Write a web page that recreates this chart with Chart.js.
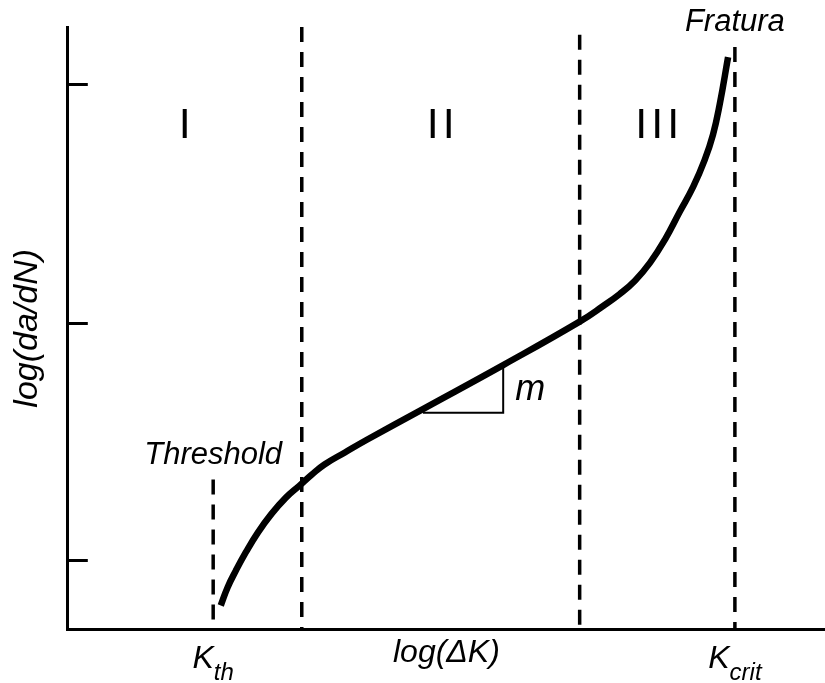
<!DOCTYPE html>
<html>
<head>
<meta charset="utf-8">
<script src="https://cdn.jsdelivr.net/npm/chart.js@4.4.0/dist/chart.umd.min.js"></script>
<style>
  html, body { margin: 0; padding: 0; background: #fff; }
  #wrap { width: 825px; height: 683px; }
</style>
</head>
<body>
<div id="wrap"><canvas id="crack-growth-chart"></canvas></div>
<script>
// Curva de propagação de trinca: log(da/dN) x log(ΔK), unidades arbitrárias
const curveX = [2.02, 2.11, 2.22, 2.35, 2.51, 2.69, 2.88, 3.06, 3.22, 3.39, 3.66, 3.95,
                4.69, 5.75, 6.76, 7.07, 7.29, 7.49, 7.69, 7.89, 8.08, 8.26, 8.41, 8.52,
                8.61, 8.72];
const curveY = [0.40, 0.70, 0.98, 1.28, 1.61, 1.92, 2.19, 2.39, 2.57, 2.74, 2.94, 3.15,
                3.66, 4.39, 5.11, 5.37, 5.57, 5.79, 6.09, 6.48, 6.93, 7.35, 7.79, 8.21,
                8.72, 9.50];

// linhas tracejadas verticais
const thresholdX = 1.92;
const thresholdTop = 2.49;
const boundaryX = [3.09, 6.76];
const boundaryTop = [10, 9.87];
const kcritX = 8.81;
const kcritTop = 9.67;

// triângulo da inclinação m
const slopeX = [4.69, 5.75, 5.75];
const slopeY = [3.60, 3.60, 4.35];

// regiões I, II, III
const regionLabels = ['I', 'II', 'III'];
const regionEdges = [0, boundaryX[0], boundaryX[1], kcritX];

// ticks
const yTicks = [1.16, 5.09, 9.05];
const xTickValues = [thresholdX, kcritX];
const xTickMain = ['K', 'K'];
const xTickSub = ['th', 'crit'];

const FONT = '"Liberation Sans", Arial, Helvetica, sans-serif';

function vline(x, top) {
    return [{ x: x, y: top }, { x: x, y: 0 }];
}

function dashedSet(x, top) {
    return {
        data: vline(x, top),
        borderColor: '#000',
        borderWidth: 3.5,
        borderDash: [15, 10],
        pointRadius: 0,
        tension: 0
    };
}

const datasets = [
    {
        data: curveX.map((x, i) => ({ x: x, y: curveY[i] })),
        borderColor: '#000',
        borderWidth: 6.5,
        borderCapStyle: 'butt',
        pointRadius: 0,
        tension: 0.45
    },
    {
        data: slopeX.map((x, i) => ({ x: x, y: slopeY[i] })),
        borderColor: '#000',
        borderWidth: 2,
        pointRadius: 0,
        tension: 0
    },
    dashedSet(thresholdX, thresholdTop),
    dashedSet(boundaryX[0], boundaryTop[0]),
    dashedSet(boundaryX[1], boundaryTop[1]),
    dashedSet(kcritX, kcritTop)
];

// desenha textos e ticks internos
const annotations = {
    id: 'annotations',
    afterDraw(chart) {
        const ctx = chart.ctx;
        const xs = chart.scales.x;
        const ys = chart.scales.y;
        const area = chart.chartArea;
        ctx.save();
        ctx.fillStyle = '#000';
        ctx.strokeStyle = '#000';

        // ticks do eixo y voltados para dentro
        ctx.lineWidth = 3;
        ys.ticks.forEach((t, i) => {
            const py = Math.round(ys.getPixelForTick(i)) + 0.5;
            ctx.beginPath();
            ctx.moveTo(area.left, py);
            ctx.lineTo(area.left + 20, py);
            ctx.stroke();
        });

        // regiões
        ctx.font = '43px ' + FONT;
        ctx.textAlign = 'center';
        ctx.textBaseline = 'alphabetic';
        ctx.letterSpacing = '4px';
        regionLabels.forEach((label, i) => {
            const cx = (xs.getPixelForValue(regionEdges[i]) + xs.getPixelForValue(regionEdges[i + 1])) / 2;
            ctx.fillText(label, cx + 2, area.top + 111);
        });
        ctx.letterSpacing = '0px';

        // Threshold e Fratura
        ctx.font = 'italic 31px ' + FONT;
        ctx.fillText('Threshold', xs.getPixelForValue(thresholdX), ys.getPixelForValue(thresholdTop) - 16);
        ctx.fillText('Fratura', xs.getPixelForValue(kcritX), ys.getPixelForValue(kcritTop) - 16);

        // m
        ctx.font = 'italic 36px ' + FONT;
        ctx.textAlign = 'left';
        const mx = xs.getPixelForValue(slopeX[2]) + 12;
        const my = (ys.getPixelForValue(slopeY[1]) + ys.getPixelForValue(slopeY[2])) / 2 + 10;
        ctx.fillText('m', mx, my);

        // rótulos Kth e Kcrit com subscrito
        xs.ticks.forEach((t, i) => {
            const px = xs.getPixelForTick(i);
            ctx.font = 'italic 32px ' + FONT;
            const wMain = ctx.measureText(xTickMain[i]).width;
            ctx.font = 'italic 24px ' + FONT;
            const wSub = ctx.measureText(xTickSub[i]).width;
            const start = px - (wMain + wSub) / 2;
            const base = area.bottom + 38;
            ctx.font = 'italic 32px ' + FONT;
            ctx.fillText(xTickMain[i], start, base);
            ctx.font = 'italic 24px ' + FONT;
            ctx.fillText(xTickSub[i], start + wMain, base + 12);
        });

        ctx.restore();
    }
};

new Chart(document.getElementById('crack-growth-chart').getContext('2d'), {
    type: 'line',
    data: { datasets },
    options: {
        responsive: true,
        maintainAspectRatio: false,
        animation: false,
        layout: { padding: { left: 3, top: 27, right: 0, bottom: 11 } },
        plugins: {
            legend: { display: false },
            tooltip: { enabled: false }
        },
        scales: {
            x: {
                type: 'linear',
                min: 0,
                max: 10,
                afterBuildTicks: scale => { scale.ticks = xTickValues.map(v => ({ value: v })); },
                ticks: { display: false },
                grid: { display: false, drawTicks: false },
                border: { display: true, width: 3, color: '#000' },
                title: {
                    display: true,
                    text: 'log(ΔK)',
                    color: '#000',
                    font: { family: FONT, size: 32, style: 'italic' },
                    padding: { top: 4, bottom: 0 }
                }
            },
            y: {
                type: 'linear',
                min: 0,
                max: 10,
                afterBuildTicks: scale => { scale.ticks = yTicks.map(v => ({ value: v })); },
                ticks: { display: false },
                grid: { display: false, drawTicks: false },
                border: { display: true, width: 3, color: '#000' },
                title: {
                    display: true,
                    text: 'log(da/dN)',
                    color: '#000',
                    font: { family: FONT, size: 34, style: 'italic' },
                    padding: { top: 4, bottom: 20 }
                }
            }
        }
    },
    plugins: [annotations]
});
</script>
</body>
</html>
